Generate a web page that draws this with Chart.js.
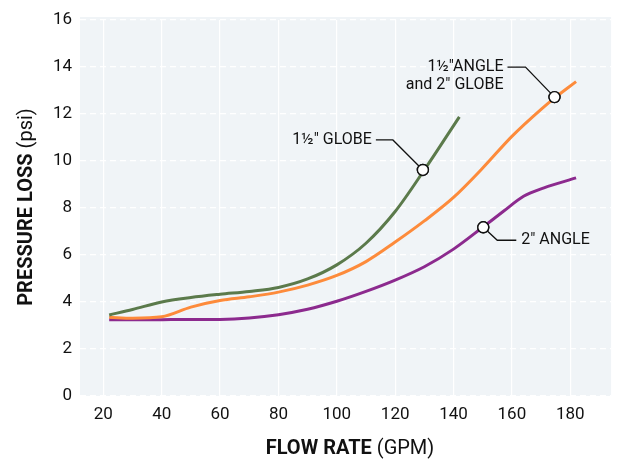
<!DOCTYPE html>
<html>
<head>
<meta charset="utf-8">
<script src="https://cdn.jsdelivr.net/npm/chart.js@4.4.1/dist/chart.umd.min.js"></script>
<style>
  html, body { margin: 0; padding: 0; background: #fff; }
  #wrap { position: relative; width: 618px; height: 466px; }
</style>
</head>
<body>
<div id="wrap"><canvas id="chart" width="618" height="466"></canvas></div>
<script>
// ---- data ----
const X_TICKS = [20, 40, 60, 80, 100, 120, 140, 160, 180];

const globe15X = [22, 30, 40, 50, 60, 70, 80, 90, 100, 110, 120, 130, 142];
const globe15Y = [3.45, 3.68, 4.0, 4.19, 4.33, 4.45, 4.62, 4.98, 5.58, 6.5, 7.85, 9.62, 11.88];

const angle15X = [22, 30, 40, 50, 60, 70, 80, 90, 100, 110, 120, 130, 140, 150, 160, 170, 175, 182];
const angle15Y = [3.35, 3.31, 3.37, 3.78, 4.06, 4.22, 4.42, 4.72, 5.13, 5.72, 6.55, 7.45, 8.45, 9.7, 11.05, 12.2, 12.72, 13.38];

const angle2X = [22, 40, 60, 70, 80, 90, 100, 110, 120, 130, 140, 150, 157, 164, 171, 182];
const angle2Y = [3.25, 3.25, 3.26, 3.32, 3.46, 3.69, 4.03, 4.45, 4.93, 5.5, 6.25, 7.18, 7.85, 8.5, 8.86, 9.28];

// callout markers: [x, y] on each curve
const markerX = [129.5, 174.6, 150.2];
const markerY = [9.62, 12.72, 7.18];
const markerLabels = [["1½\" GLOBE"], ["1½\"ANGLE", "and 2\" GLOBE"], ["2\" ANGLE"]];

const COLORS = { globe: "#5b7a4b", angle: "#fd8b3b", angle2: "#8c2a8e" };
const FONT = "Roboto, 'Liberation Sans', sans-serif";

function pts(xs, ys) {
  return xs.map((x, i) => ({ x: x, y: ys[i] }));
}

Chart.defaults.font.family = FONT;
Chart.defaults.color = "#111";

// plot background (a little taller than the area at the top)
const fondo = {
  id: "fondo",
  beforeDraw(chart) {
    const { ctx, chartArea } = chart;
    ctx.save();
    ctx.fillStyle = "#f0f4f7";
    ctx.fillRect(chartArea.left, chartArea.top - 3, chartArea.right - chartArea.left, chartArea.bottom - chartArea.top + 3);
    ctx.restore();
  }
};

// axis titles with bold + regular parts
const titulos = {
  id: "titulos",
  afterDraw(chart) {
    const { ctx } = chart;
    ctx.save();
    ctx.fillStyle = "#111";
    ctx.textBaseline = "middle";

    const boldF = "bold 20px " + FONT;
    const regF = "20px " + FONT;

    // x title
    ctx.font = boldF;
    const b1 = "FLOW RATE";
    const w1 = ctx.measureText(b1).width;
    ctx.font = regF;
    const r1 = " (GPM)";
    const w2 = ctx.measureText(r1).width;
    let x0 = 350 - (w1 + w2) / 2;
    ctx.textAlign = "left";
    ctx.font = boldF;
    ctx.fillText(b1, x0, 449);
    ctx.font = regF;
    ctx.fillText(r1, x0 + w1, 449);

    // y title
    ctx.translate(27, 207);
    ctx.rotate(-Math.PI / 2);
    ctx.font = boldF;
    const b2 = "PRESSURE LOSS";
    const w3 = ctx.measureText(b2).width;
    ctx.font = regF;
    const r2 = " (psi)";
    const w4 = ctx.measureText(r2).width;
    x0 = -(w3 + w4) / 2;
    ctx.font = boldF;
    ctx.fillText(b2, x0, 0);
    ctx.font = regF;
    ctx.fillText(r2, x0 + w3, 0);
    ctx.restore();
  }
};

// leader lines + labels for the callouts (offsets in px from marker)
const llamadas = {
  id: "llamadas",
  afterDatasetsDraw(chart) {
    const { ctx, scales } = chart;
    const guias = [
      { elbow: [-30, -30], end: [-47, -30], text: [-51, -30], align: "right" },
      { elbow: [-29, -30], end: [-47, -30], text: [-51, -30], align: "right" },
      { elbow: [14, 13], end: [33, 13], text: [38, 13], align: "left" }
    ];
    ctx.save();
    markerX.forEach((mx, i) => {
      const px = scales.x.getPixelForValue(mx);
      const py = scales.y.getPixelForValue(markerY[i]);
      const g = guias[i];
      ctx.strokeStyle = "#111";
      ctx.lineWidth = 1.3;
      ctx.beginPath();
      ctx.moveTo(px, py);
      ctx.lineTo(px + g.elbow[0], py + g.elbow[1]);
      ctx.lineTo(px + g.end[0], py + g.end[1]);
      ctx.stroke();

      ctx.fillStyle = "#111";
      ctx.font = "16px " + FONT;
      ctx.textAlign = g.align;
      ctx.textBaseline = "middle";
      markerLabels[i].forEach((t, j) => {
        ctx.fillText(t, px + g.text[0], py + g.text[1] + j * 18);
      });
    });
    ctx.restore();

    // markers on top of curves and leader lines
    chart.getDatasetMeta(0).data.forEach(p => p.draw(ctx, chart.chartArea));
  }
};

const lineaBase = {
  showLine: true,
  borderWidth: 3,
  pointRadius: 0,
  cubicInterpolationMode: "monotone",
  fill: false
};

new Chart(document.getElementById("chart"), {
  type: "scatter",
  data: {
    datasets: [
      {
        data: pts(markerX, markerY),
        showLine: false,
        pointRadius: 5.5,
        pointBackgroundColor: "#ffffff",
        pointBorderColor: "#111111",
        pointBorderWidth: 1.4
      },
      { ...lineaBase, data: pts(globe15X, globe15Y), borderColor: COLORS.globe },
      { ...lineaBase, data: pts(angle15X, angle15Y), borderColor: COLORS.angle },
      { ...lineaBase, data: pts(angle2X, angle2Y), borderColor: COLORS.angle2 }
    ]
  },
  options: {
    responsive: false,
    animation: false,
    layout: { padding: { top: 20, right: 3, left: 0, bottom: 0 } },
    plugins: {
      legend: { display: false },
      tooltip: { enabled: false }
    },
    scales: {
      x: {
        type: "linear",
        min: 12,
        max: 194,
        afterBuildTicks(axis) {
          axis.ticks = X_TICKS.map(v => ({ value: v }));
        },
        afterFit(axis) { axis.height = 70; },
        grid: { color: "#ffffff", lineWidth: 1.2, drawTicks: false },
        border: { display: false },
        ticks: { font: { size: 17 }, color: "#111", padding: 9 }
      },
      y: {
        min: 0,
        max: 16,
        afterFit(axis) { axis.width = 80; },
        grid: { color: "#ffffff", lineWidth: 1.2, drawTicks: false },
        border: { display: false, dash: [6, 4] },
        ticks: { stepSize: 2, font: { size: 17 }, color: "#111", padding: 8 }
      }
    }
  },
  plugins: [fondo, llamadas, titulos]
});
</script>
</body>
</html>
